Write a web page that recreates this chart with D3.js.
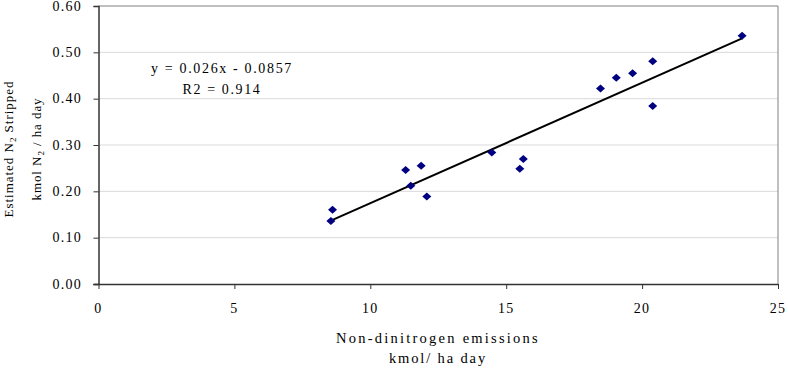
<!DOCTYPE html>
<html>
<head>
<script src="https://d3js.org/d3.v7.min.js"></script>
<style>
  body { margin: 0; background: #fff; }
  svg text { font-family: "Liberation Serif", "Times New Roman", serif; fill: #000; }
</style>
</head>
<body>
<svg id="chart" width="788" height="376"></svg>
<script>
// data
const emissions = [8.61, 8.55, 11.30, 11.87, 11.49, 12.08, 14.47, 15.50, 15.63, 18.47, 19.05, 19.65, 20.39, 20.39, 23.68];
const stripped  = [0.160, 0.136, 0.246, 0.255, 0.212, 0.189, 0.284, 0.249, 0.270, 0.422, 0.445, 0.455, 0.481, 0.384, 0.536];
const xTicks = [0, 5, 10, 15, 20, 25];
const yTicks = [0, 0.1, 0.2, 0.3, 0.4, 0.5, 0.6];
const slope = 0.026, intercept = -0.0857;
const eqLabels = ["y = 0.026x - 0.0857", "R2 = 0.914"];

const svg = d3.select("#chart");
const mLeft = 98.5, mRight = 778, mTop = 6, mBottom = 284;

const x = d3.scaleLinear().domain([0, 25]).range([mLeft, mRight]);
const y = d3.scaleLinear().domain([0, 0.6]).range([mBottom, mTop]);

// the original text is set wide, so spread letters out to a given length
function spread(sel, target) {
  sel.each(function () {
    const w = this.getComputedTextLength();
    const n = this.textContent.length;
    const t = typeof target === "function" ? target(w) : target;
    d3.select(this).style("letter-spacing", ((t - w) / n).toFixed(2) + "px");
  });
}

// grid
svg.append("g").selectAll("line").data(yTicks.slice(1, -1)).enter()
  .append("line")
  .attr("x1", mLeft).attr("x2", mRight)
  .attr("y1", d => y(d)).attr("y2", d => y(d))
  .attr("stroke", "#d9d9d9").attr("stroke-width", 1);

// frame top & right
svg.append("path")
  .attr("d", `M${mLeft},${mTop}H${mRight}V${mBottom}`)
  .attr("fill", "none").attr("stroke", "#808080").attr("stroke-width", 1);

// axes (lines and ticks only, labels drawn below)
const yAxis = svg.append("g")
  .attr("transform", `translate(${mLeft},0)`)
  .call(d3.axisLeft(y).tickValues(yTicks).tickFormat("").tickSize(5));
const xAxis = svg.append("g")
  .attr("transform", `translate(0,${mBottom})`)
  .call(d3.axisBottom(x).tickValues(xTicks).tickFormat("").tickSize(5));
[yAxis, xAxis].forEach(a => {
  a.select(".domain").attr("stroke", "#333").attr("stroke-width", 1.5);
  a.selectAll(".tick line").attr("stroke", "#333");
  a.selectAll("text").remove();
});
xAxis.select(".domain").attr("d", `M${mLeft - 5},0.5H${mRight}`);

const yLab = svg.append("g").selectAll("text").data(yTicks).enter()
  .append("text")
  .attr("x", mLeft - 46).attr("y", d => y(d)).attr("dy", "0.34em")
  .attr("text-anchor", "start").style("font-size", "14px")
  .text(d3.format(".2f"));
const xLab = svg.append("g").selectAll("text").data(xTicks).enter()
  .append("text")
  .attr("x", d => x(d)).attr("y", 313)
  .attr("text-anchor", "middle").style("font-size", "14px")
  .text(d3.format("d"));
spread(yLab, w => w * 1.2);
spread(xLab, w => w * 1.18);

// trendline
const xr = d3.extent(emissions);
svg.append("line")
  .attr("x1", x(xr[0])).attr("y1", y(slope * xr[0] + intercept))
  .attr("x2", x(xr[1])).attr("y2", y(slope * xr[1] + intercept))
  .attr("stroke", "#000").attr("stroke-width", 2);

// points
svg.append("g").selectAll("path").data(emissions).enter()
  .append("path")
  .attr("transform", (d, i) => `translate(${x(d)},${y(stripped[i])})`)
  .attr("d", "M0,-4L4.5,0L0,4L-4.5,0Z")
  .attr("fill", "#000080");

// equation
const eq = svg.append("g").selectAll("text").data(eqLabels).enter()
  .append("text")
  .attr("x", 222).attr("y", (d, i) => 73 + i * 21)
  .attr("text-anchor", "middle").style("font-size", "14px")
  .text(d => d);
spread(eq.filter((d, i) => i === 0), 142);
spread(eq.filter((d, i) => i === 1), 79);

// y title
const yt = svg.append("g").attr("transform", "translate(13,149) rotate(-90)");
const t1 = yt.append("text").attr("text-anchor", "middle").style("font-size", "13px");
t1.append("tspan").text("Estimated N");
t1.append("tspan").style("font-size", "9px").attr("dy", 3).text("2");
t1.append("tspan").attr("dy", -3).text(" Stripped");
const t2 = yt.append("text").attr("y", 28).attr("text-anchor", "middle").style("font-size", "13px");
t2.append("tspan").text("kmol N");
t2.append("tspan").style("font-size", "9px").attr("dy", 3).text("2");
t2.append("tspan").attr("dy", -3).text(" / ha day");
spread(t1, 137);
spread(t2, 103);

// x title
const xt1 = svg.append("text").attr("x", 438).attr("y", 342.5)
  .attr("text-anchor", "middle").style("font-size", "14.5px")
  .text("Non-dinitrogen emissions");
const xt2 = svg.append("text").attr("x", 438).attr("y", 363)
  .attr("text-anchor", "middle").style("font-size", "14.5px")
  .text("kmol/ ha day");
spread(xt1, 204);
spread(xt2, 98);
</script>
</body>
</html>
